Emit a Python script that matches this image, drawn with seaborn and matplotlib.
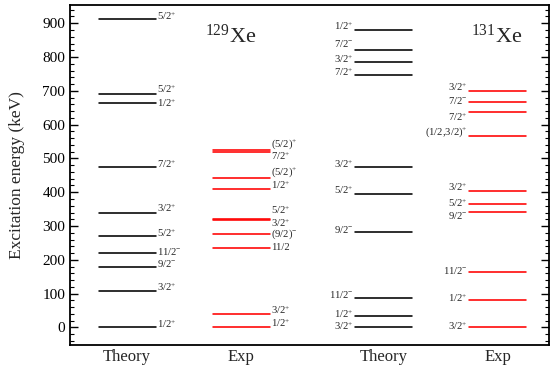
import matplotlib
matplotlib.use("Agg")
import matplotlib.pyplot as plt
from matplotlib.ticker import MultipleLocator
import numpy as np
import pandas as pd
import seaborn as sns

# ---------------- data ----------------
columns = ["Theory", "Exp", "Theory", "Exp"]
column_kind = ["Theory", "Exp", "Theory", "Exp"]

th129_E = [0, 107, 180, 220, 270, 340, 475, 665, 690, 912]
th129_J = ["1/2+", "3/2+", "9/2-", "11/2-", "5/2+", "3/2+", "7/2+", "1/2+", "5/2+", "5/2+"]

ex129_E = [0, 40, 236, 275, 318, 322, 411, 443, 519, 525]
ex129_J = ["1/2+", "3/2+", "11/2", "(9/2)-", "3/2+", "5/2+", "1/2+", "(5/2)+", "7/2+", "(5/2)+"]

th131_E = [0, 34, 88, 281, 396, 474, 746, 785, 821, 880]
th131_J = ["3/2+", "1/2+", "11/2-", "9/2-", "5/2+", "3/2+", "7/2+", "3/2+", "7/2-", "1/2+"]

ex131_E = [0, 80, 164, 341, 365, 405, 567, 637, 667, 700]
ex131_J = ["3/2+", "1/2+", "11/2-", "9/2-", "5/2+", "3/2+", "(1/2,3/2)+", "7/2+", "7/2-", "3/2+"]

isotopes = ["129", "131"]

# label vertical nudges (pixels, + = up)
th129_dy = [3, 4, 3, 2, 3, 4, 3, 0, 5, 3]
ex129_dy = [4, 4, 0, 0, -3, 8, 3, 5, -4, 6]
th131_dy = [1, 2, 3, 3, 3, 3, 3, 3, 6, 4]
ex131_dy = [1, 2, 1, -3, 1, 3, 4, -5, 1, 4]

# ---------------- style ----------------
sns.set_style("ticks")
plt.rcParams["font.family"] = ["Liberation Serif", "DejaVu Serif"]
plt.rcParams["mathtext.fontset"] = "custom"
plt.rcParams["mathtext.rm"] = "Liberation Serif"
plt.rcParams["mathtext.it"] = "Liberation Serif:italic"
plt.rcParams["mathtext.default"] = "rm"

col_x = [1.0, 2.0, 3.25, 4.25]
half_w = 0.25
palette = {"Theory": "black", "Exp": "#ff0000"}

levels = [th129_E, ex129_E, th131_E, ex131_E]
spins = [th129_J, ex129_J, th131_J, ex131_J]
nudges = [th129_dy, ex129_dy, th131_dy, ex131_dy]

rows = []
uid = 0
for c, (E_list, kind) in enumerate(zip(levels, column_kind)):
    for e in E_list:
        rows.append({"x": col_x[c] - half_w, "E": e, "id": uid, "kind": kind})
        rows.append({"x": col_x[c] + half_w, "E": e, "id": uid, "kind": kind})
        uid += 1
df = pd.DataFrame(rows)

fig = plt.figure(figsize=(5.51, 3.67), dpi=100)
ax = fig.add_axes([70 / 551, 1 - 345 / 367, 479 / 551, 340 / 367])

sns.lineplot(data=df, x="x", y="E", units="id", estimator=None, hue="kind",
             palette=palette, sort=False, legend=False, lw=1.15, ax=ax)


def fmt(j):
    if j.endswith("+"):
        return j[:-1] + r"$^{+}$"
    if j.endswith("-"):
        return j[:-1] + r"$^{-}$"
    return j


for c in range(4):
    right_side = c in (0, 1)
    for e, j, dy in zip(levels[c], spins[c], nudges[c]):
        if right_side:
            ax.annotate(fmt(j), xy=(col_x[c] + half_w, e),
                        xytext=(1.2, dy * 0.72), textcoords="offset points",
                        ha="left", va="center", fontsize=7.7)
        else:
            ax.annotate(fmt(j), xy=(col_x[c] - half_w, e),
                        xytext=(-1.2, dy * 0.72), textcoords="offset points",
                        ha="right", va="center", fontsize=7.7)

ax.text(1.68, 842, r"$^{" + isotopes[0] + r"}$Xe", fontsize=16, va="baseline")
ax.text(4.02, 842, r"$^{" + isotopes[1] + r"}$Xe", fontsize=16, va="baseline")

ax.set_xlim(0.5, 4.70)
ax.set_ylim(-52, 954)
ax.set_xticks(col_x)
ax.set_xticklabels(columns, fontsize=12)
ax.set_xlabel("")
ax.set_ylabel("Excitation energy (keV)", fontsize=12.5)
ax.yaxis.set_label_coords(-0.093, 0.5)
ax.yaxis.set_major_locator(MultipleLocator(100))
ax.yaxis.set_minor_locator(MultipleLocator(20))
ax.tick_params(axis="y", which="both", direction="in", left=True, right=True,
               labelsize=11, colors="black")
ax.tick_params(axis="y", which="major", length=6, width=1.0)
ax.tick_params(axis="y", which="minor", length=3, width=0.8)
ax.tick_params(axis="x", which="both", length=0, pad=3)
for s in ax.spines.values():
    s.set_visible(True)
    s.set_linewidth(1.3)
    s.set_color("black")

fig.savefig("out.png", dpi=100)
